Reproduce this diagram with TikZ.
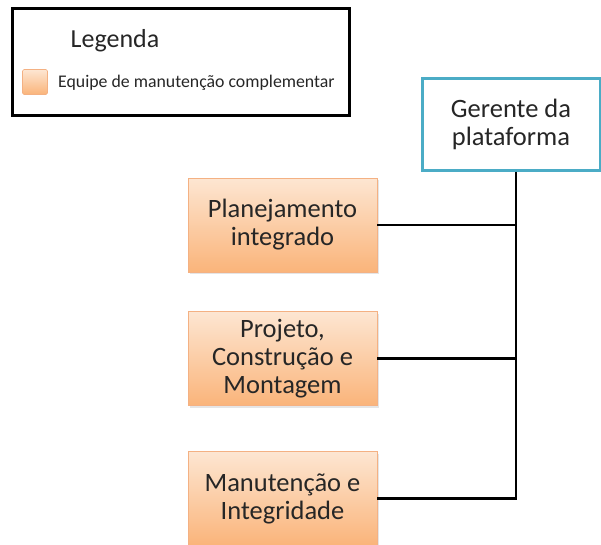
\documentclass[tikz,border=0pt]{standalone}
\usepackage{fontspec}
\setmainfont{Carlito}
\usetikzlibrary{shadings,shadows}
\definecolor{boxtop}{HTML}{FDE6D2}
\definecolor{boxbot}{HTML}{FAB47A}
\definecolor{boxedge}{HTML}{F4B183}
\definecolor{teal}{HTML}{4BACC6}
\tikzset{
  orgbox/.style={draw=boxedge, line width=0.8pt, top color=boxtop, bottom color=boxbot,
    minimum width=189pt, minimum height=94pt, inner sep=0pt, align=center,
    font=\fontsize{26.5}{28}\selectfont, text=black!85,
    drop shadow={shadow xshift=2pt, shadow yshift=-2pt, opacity=0.25, fill=black!40}},
  mgrbox/.style={draw=teal, line width=3pt, fill=white,
    minimum width=178pt, minimum height=92pt, inner sep=0pt, align=center,
    font=\fontsize{26.5}{28}\selectfont, text=black!85},
  link/.style={draw=black, line width=2.6pt},
}
\begin{document}
\begin{tikzpicture}[x=1pt,y=-1pt]
\useasboundingbox (0,0) rectangle (601,544);
% legend
\node[draw=black, line width=3pt, minimum width=337pt, minimum height=107pt, inner sep=0pt] (legend) at (180.5,61.5) {};
\node[font=\fontsize{26}{30}\selectfont, text=black!85] (legtitle) at (115,41) {Legenda};
\node[draw=boxedge, line width=0.6pt, top color=boxtop, bottom color=boxbot, rounded corners=1.5pt,
  minimum width=25pt, minimum height=25pt, inner sep=0pt] (swatch) at (35,82) {};
\node[anchor=west, font=\fontsize{17.8}{20}\selectfont, text=black!85, inner sep=0pt] (legtext) at (58,83) {Equipe de manutenção complementar};
% manager
\node[mgrbox] (mgr) at (511,124) {Gerente da\\plataforma};
% departments
\node[orgbox] (plan) at (282.5,225) {Planejamento\\integrado};
\node[orgbox] (proj) at (282.5,358.5) {Projeto,\\Construção e\\Montagem};
\node[orgbox] (manu) at (282.5,498.5) {Manutenção e\\Integridade};
\coordinate (bus) at (516,0);
\draw[link] (mgr.south -| bus) -- (bus |- manu.east) -- (manu.east);
\draw[link] (plan.east) -- (plan.east -| bus);
\draw[link] (proj.east) -- (proj.east -| bus);
\end{tikzpicture}
\end{document}
